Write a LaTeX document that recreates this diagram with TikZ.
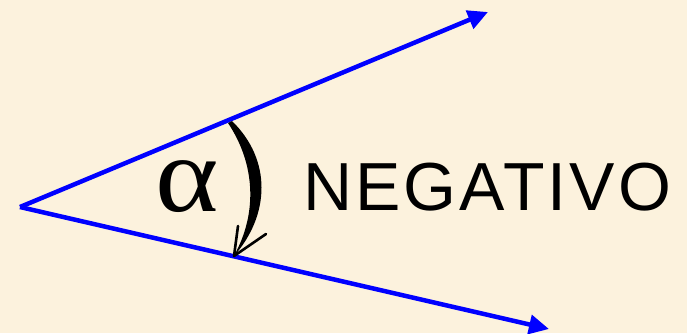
\documentclass[tikz,border=0pt]{standalone}
\usepackage{fontspec}
\setmainfont{Liberation Serif}
\newfontfamily\labfont[LetterSpace=4.5]{Liberation Sans}
\usetikzlibrary{arrows.meta}
\definecolor{parch}{RGB}{252,242,221}
\tikzset{
  ray/.style={draw={rgb,255:red,0;green,0;blue,255}, line width=4.5pt, -{Triangle[length=20pt,width=19pt]}},
  barb/.style={draw=black, line width=2.6pt, line cap=round},
}
\begin{document}
\begin{tikzpicture}[x=1pt,y=-1pt]
\fill[parch] (0,0) rectangle (687,333);
\useasboundingbox (0,0) rectangle (687,333);
\coordinate (v) at (20,207);
\coordinate (t1) at (488,12);
\coordinate (t2) at (549,329);
\draw[ray] (v) -- (t1);
\draw[ray] (v) -- (t2);
% crescent arc
\coordinate (a1) at (232,121);
\coordinate (a2) at (234,256);
\fill[black] (a1) .. controls (272,160) and (270,215) .. (a2)
  -- (237,250) .. controls (256,212) and (256,165) .. (228,123) -- cycle;
\coordinate (b1) at (238,226);
\coordinate (b2) at (266,234);
\draw[barb] (b1) -- (a2);
\draw[barb] (b2) -- (a2);
\node[xscale=1.12] (alpha) at (187,187) {\fontsize{108}{108}\selectfont α};
\node[anchor=west, inner sep=0pt] (neg) at (303,187) {\labfont\fontsize{68}{68}\selectfont NEGATIVO};
\end{tikzpicture}
\end{document}
